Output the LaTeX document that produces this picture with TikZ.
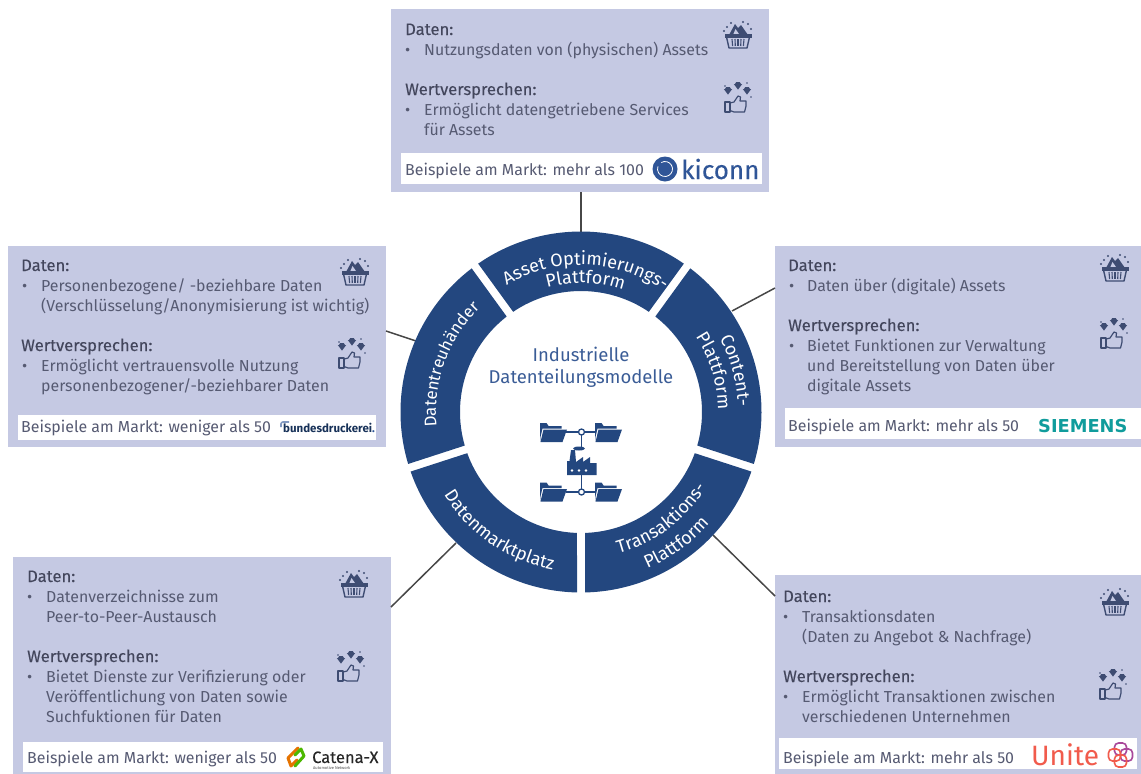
\documentclass[tikz,border=0pt]{standalone}
\usepackage{fontspec}
\setmainfont{Fira Sans}
\newfontfamily\headf[FakeBold=0.25]{Fira Sans}
\newfontfamily\widef{DejaVu Sans}
\usetikzlibrary{decorations.text}
\definecolor{panelc}{HTML}{C5C9E3}
\definecolor{navy}{HTML}{23477F}
\definecolor{bodyc}{HTML}{565A72}
\definecolor{headc}{HTML}{43465C}
\definecolor{titlec}{HTML}{3A5C96}
\definecolor{iconc}{HTML}{3E4C72}
\definecolor{kic}{HTML}{2F5597}
\definecolor{sie}{HTML}{109C9C}
\definecolor{unit}{HTML}{F15B4C}
\definecolor{unip}{HTML}{A9489A}
\newcount\tc
\def\bodyfont{\fontsize{15.9}{18}\selectfont}
\def\headfont{\fontsize{16.6}{18}\selectfont}
\def\ringf{\fontsize{18}{20}\selectfont\color{white}}
\def\ringg{\fontsize{16.8}{20}\selectfont\color{white}}
\tikzset{
 x=1pt,y=1pt,
 panel/.style={fill=panelc,draw=none,inner sep=0pt,anchor=north west},
 strip/.style={fill=white,draw=none,inner sep=0pt,anchor=north west},
 body/.style={font=\bodyfont,text=bodyc,inner sep=0pt,anchor=base west},
 head/.style={font=\headfont\headf,text=headc,inner sep=0pt,anchor=base west},
 conn/.style={draw=black!72,line width=1.5pt},
 seg/.style={fill=navy,draw=none},
 title/.style={font=\fontsize{18.5}{22}\selectfont,text=titlec,inner sep=0pt,anchor=base},
 basket/.pic={
  \fill[iconc] (-9,-1)--(-3,10)--(0,6)--(3,9)--(10,-1)--cycle;
  \fill[panelc] (-5,-1)--(-2.5,5)--(1,0)--cycle;
  \fill[iconc] (-13.5,-3.5) rectangle (13.5,0);
  \draw[iconc,line width=1.4pt,line join=round] (-11.5,-3)--(-9,-14)--(9,-14)--(11.5,-3);
  \foreach \i in {-6,-3,0,3,6} \draw[iconc,line width=1.1pt] (\i,-5)--(\i*.9,-12);
  \foreach \p in {(-11,7),(-7,11),(10,10),(13,5),(5,12),(-14,3)} \fill[iconc] \p circle (1.2);
 },
 thumbsup/.pic={
  \foreach \p in {(-10,6.5),(0,11.5),(9,6.5)} {
   \fill[iconc] \p ++(-4.2,1.5)--++(8.4,0)--++(-4.2,-5.6)--cycle;
   \fill[iconc] \p ++(-3,1.5)--++(1.3,2)--++(3.4,0)--++(1.3,-2)--cycle;
  }
  \foreach \p in {(-13,11),(13,0),(9,14)} \fill[iconc] \p circle (.8);
  \draw[iconc,line width=1.2pt,line join=round] (-13,-15) rectangle (-8,-5);
  \draw[iconc,line width=1.2pt,line join=round]
    (-8,-6)--(-4,-5)--(0,1)--(2.5,0)--(2,-4)--(8,-4)--(8,-9)--(6.5,-15)--(-4,-15)--(-8,-13.5);
 },
 folder/.pic={
  \fill[navy] (-13.5,-10)--(-13.5,9)--(-7,9)--(-5,6)--(8,6)--(8,3.5)--(-11,3.5)--(-13,-5)--cycle;
  \fill[navy] (-10,2.5)--(13.5,2.5)--(9,-10)--(-13,-10)--cycle;
 },
}
\def\T#1#2#3{\global\advance\tc by 1\node[body] (t\the\tc) at (#1,-#2) {#3};}
\def\H#1#2#3{\global\advance\tc by 1\node[head] (t\the\tc) at (#1,-#2) {#3};}
\def\B#1#2{\global\advance\tc by 1\node[body] (t\the\tc) at (#1,-#2) {•};}
\def\Seg#1#2{\fill[seg] (#1+1.27:180.5) arc[start angle=#1+1.27,end angle=#2-1.27,radius=180.5]
  -- (#2-1.9:121) arc[start angle=#2-1.9,end angle=#1+1.9,radius=121] -- cycle;}
\def\Arc#1#2#3#4{\path[decorate,decoration={text along path,text align=center,text={|\ringf|#4}}]
  (#1:#3) arc[start angle=#1,end angle=#2,radius=#3];}
\def\ArcS#1#2#3#4{\path[decorate,decoration={text along path,text align=center,text={|\ringg|#4}}]
  (#1:#3) arc[start angle=#1,end angle=#2,radius=#3];}
\begin{document}
\begin{tikzpicture}
\useasboundingbox (0,-774) rectangle (1141,0);
% panels
\node[panel,minimum width=378pt,minimum height=183pt] (pA) at (391,-9) {};
\node[strip,minimum width=361pt,minimum height=31pt] (sA) at (401,-153) {};
\node[panel,minimum width=378pt,minimum height=201pt] (pB) at (8,-246) {};
\node[strip,minimum width=358pt,minimum height=25pt] (sB) at (18,-415) {};
\node[panel,minimum width=366pt,minimum height=201pt] (pC) at (775,-246) {};
\node[strip,minimum width=356pt,minimum height=31pt] (sC) at (785,-408) {};
\node[panel,minimum width=378pt,minimum height=217pt] (pD) at (13,-557) {};
\node[strip,minimum width=360pt,minimum height=30pt] (sD) at (23,-742) {};
\node[panel,minimum width=366pt,minimum height=199pt] (pE) at (775,-575) {};
\node[strip,minimum width=358pt,minimum height=31pt] (sE) at (779,-738) {};
% connectors
\coordinate (rA) at (581,-240); \coordinate (eA) at (581,-192);
\coordinate (rB) at (416,-341); \coordinate (eB) at (386,-331);
\coordinate (rC) at (732,-311); \coordinate (eC) at (775,-288);
\coordinate (rD) at (456,-543); \coordinate (eD) at (391,-607);
\coordinate (rE) at (713,-535); \coordinate (eE) at (775,-596);
\foreach \n in {A,B,C,D,E} \draw[conn] (r\n) -- (e\n);
% ring
\begin{scope}[shift={(581,-412)}]
\Seg{54}{126}
\Seg{126}{198}
\Seg{198}{270}
\Seg{270}{342}
\Seg{-18}{54}
\Arc{148}{28}{147}{Asset Optimierungs-}
\Arc{148}{28}{129}{Plattform}
\ArcS{220}{100}{145}{Datentreuhänder}
\Arc{75}{-45}{157}{Content-}
\Arc{77}{-43}{137}{Plattform}
\Arc{-113}{7}{146}{Transaktions-}
\Arc{-114}{6}{170}{Plattform}
\Arc{175}{296}{160}{Datenmarktplatz}
\end{scope}
\node[title] (tt1) at (581,-361) {Industrielle};
\node[title] (tt2) at (581,-383) {Datenteilungsmodelle};
% central icon
\coordinate (n1) at (581.5,-432);
\coordinate (n2) at (581.5,-492);
\draw[navy,line width=1.4pt] (566,-432)--(596,-432) (581.5,-432)--(581.5,-448) (581.5,-475)--(581.5,-492) (566,-492)--(596,-492);
\foreach \c in {n1,n2} \filldraw[fill=white,draw=navy,line width=1.3pt] (\c) circle (3);
\pic at (553.5,-432) {folder};
\pic at (608.5,-432) {folder};
\pic at (553.5,-491.5) {folder};
\pic at (608.5,-491.5) {folder};
\fill[navy] (567,-475)--(567,-461)--(569.5,-461)--(571,-450)--(575,-450)--(576,-462)--(583,-457)--(583,-462)--(590,-457)--(590,-463)--(596.5,-463)--(596.5,-475)--cycle;
\fill[navy] (579,-448.5) ellipse (6 and 2);
\foreach \i in {572,579,586} \fill[white] (\i,-470.5) circle (1.3);
% panel A
\H{405}{35}{Daten:}\B{405}{55}\T{424}{55}{Nutzungsdaten von (physischen) Assets}
\H{405}{95}{Wertversprechen:}\B{405}{115}\T{424}{115}{Ermöglicht datengetriebene Services}\T{424}{135}{für Assets}
\T{405}{175}{Beispiele am Markt: mehr als 100}
% panel B
\H{21}{271}{Daten:}\B{22}{291}\T{41}{291}{Personenbezogene/ -beziehbare Daten}\T{41}{311}{(Verschlüsselung/Anonymisierung ist wichtig)}
\H{21}{351}{Wertversprechen:}\B{22}{371}\T{41}{371}{Ermöglicht vertrauensvolle Nutzung}\T{41}{391}{personenbezogener/-beziehbarer Daten}
\T{21}{432}{Beispiele am Markt: weniger als 50}
% panel C
\H{788}{271}{Daten:}\B{789}{291}\T{807}{291}{Daten über (digitale) Assets}
\H{788}{331}{Wertversprechen:}\B{789}{351}\T{807}{351}{Bietet Funktionen zur Verwaltung}\T{807}{371}{und Bereitstellung von Daten über}\T{807}{391}{digitale Assets}
\T{788}{431}{Beispiele am Markt: mehr als 50}
% panel D
\H{27}{582}{Daten:}\B{27}{602}\T{46}{602}{Datenverzeichnisse zum}\T{46}{622}{Peer-to-Peer-Austausch}
\H{27}{662}{Wertversprechen:}\B{27}{682}\T{46}{682}{Bietet Dienste zur Verifizierung oder}\T{46}{702}{Veröffentlichung von Daten sowie}\T{46}{722}{Suchfuktionen für Daten}
\T{27}{763}{Beispiele am Markt: weniger als 50}
% panel E
\H{783}{602}{Daten:}\B{783}{622}\T{802}{622}{Transaktionsdaten}\T{802}{642}{(Daten zu Angebot \& Nachfrage)}
\H{783}{682}{Wertversprechen:}\B{783}{702}\T{802}{702}{Ermöglicht Transaktionen zwischen}\T{802}{722}{verschiedenen Unternehmen}
\T{783}{763}{Beispiele am Markt: mehr als 50}
% icons
\foreach \p in {(738,-34),(355,-271),(1115,-267),(354,-583),(1115,-601)} \pic at \p {basket};
\foreach \p in {(738,-97),(352,-353),(1114,-333),(351,-666),(1113,-684)} \pic at \p {thumbsup};
% logos
\fill[kic] (665,-169) circle (12.5);
\draw[white,line width=.8pt] (665,-169)++(120:7.5) arc[start angle=120,end angle=-200,radius=7.5];
\node[font=\fontsize{26}{30}\selectfont\headf,text=kic,inner sep=0pt,anchor=base west] (lA) at (681,-179) {kiconn};
\draw[kic!60,line width=1.6pt,rounded corners=2pt] (289,-422)--(281,-422)--(281,-427);
\node[font=\fontsize{11.5}{14}\selectfont\bfseries,text=navy!70!black,inner sep=0pt,anchor=base west] (lB) at (283,-432) {bundesdruckerei\textcolor{kic}{.}};
\node[font=\fontsize{17.8}{20}\selectfont\widef\bfseries,text=sie,inner sep=0pt,anchor=base west] (lC) at (1038,-432.5) {SIEMENS};
\draw[orange!90!black,line width=3pt,line cap=round,line join=round] (298,-748)--(288,-758)--(291,-766)--(297,-760);
\draw[green!60!black!70!yellow,line width=3pt,line cap=round,line join=round] (295,-766)--(304,-756)--(301,-749)--(295,-755);
\node[font=\fontsize{16.5}{18}\selectfont\headf,text=black!85,inner sep=0pt,anchor=base west] (lD) at (312,-763) {Catena-X};
\node[font=\fontsize{4}{5}\selectfont,text=black!70,inner sep=0pt,anchor=base west] (lD2) at (313,-769) {Automotive Network};
\node[font=\fontsize{28}{30}\selectfont,text=unit,inner sep=0pt,anchor=base west] (lE) at (1031,-765) {Unite};
\begin{scope}[shift={(1120.5,-755)}]
\draw[unip,line width=1.6pt,rounded corners=4pt] (-6,0) rectangle (6,12);
\draw[unip,line width=1.6pt,rounded corners=4pt] (0,-6) rectangle (12,6);
\draw[unit,line width=1.6pt,rounded corners=4pt] (-12,-6) rectangle (0,6);
\draw[unit,line width=1.6pt,rounded corners=4pt] (-6,-12) rectangle (6,0);
\end{scope}
\end{tikzpicture}
\end{document}
